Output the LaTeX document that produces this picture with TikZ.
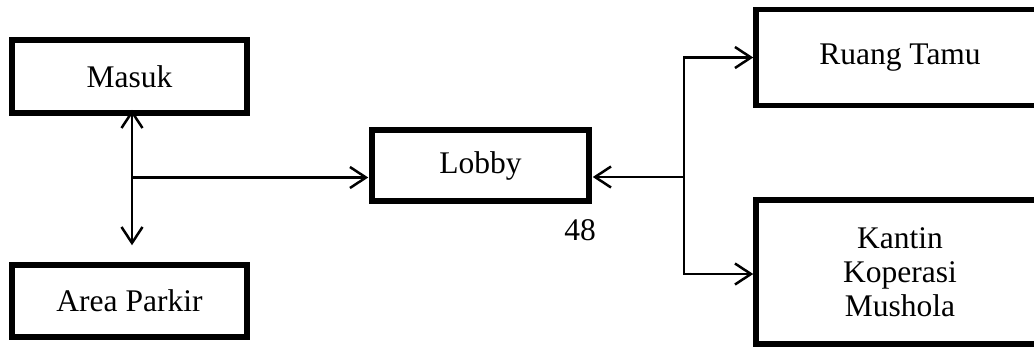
\documentclass[tikz,border=0pt]{standalone}
\usepackage{fontspec}
\setmainfont{Liberation Serif}
\usetikzlibrary{arrows.meta}
\begin{document}
\begin{tikzpicture}[x=1pt,y=-1pt,
  box/.style={draw=black, line width=5.5pt, fill=white, inner sep=0pt, align=center,
    font=\fontsize{31.5}{34}\selectfont},
  conn/.style={draw=black, line width=2.5pt},
  arr/.style={conn, -{Straight Barb[length=16pt,width=21pt]}},
  darr/.style={conn, {Straight Barb[length=16pt,width=21pt]}-{Straight Barb[length=16pt,width=21pt]}},
  lbl/.style={font=\fontsize{31.5}{34}\selectfont, inner sep=0pt}]
\useasboundingbox (0,0) rectangle (1034,346);
\clip (0,0) rectangle (1034,346);
\fill[white] (0,0) rectangle (1034,346);

\node[box, minimum width=235pt, minimum height=73pt] (masuk) at (129.5,76.5) {Masuk};
\node[box, minimum width=235pt, minimum height=72pt] (parkir) at (129.5,301) {Area Parkir};
\node[box, minimum width=217pt, minimum height=71pt] (lobby) at (480.5,165.5) {Lobby};
\node[box, minimum width=288pt, minimum height=96pt] (tamu) at (900,57.5) {Ruang Tamu};
\node[box, minimum width=288pt, minimum height=144pt] (kantin) at (900,272) {Kantin\\Koperasi\\Mushola};
\node[lbl] (hal) at (580,230) {48};

\coordinate (j1) at (132,177.5);
\coordinate (j2) at (684,177);

\draw[darr] ([yshift=6pt]masuk.south -| j1) -- ([yshift=17pt]parkir.north -| j1);
\draw[arr] (j1) -- ([xshift=-1pt]lobby.west |- j1);
\draw[arr] (j2) -- ([xshift=1pt]lobby.east |- j2);
\draw[arr] (j2) |- (tamu.west);
\draw[arr] (j2) |- ([yshift=-2pt]kantin.west);
\end{tikzpicture}
\end{document}
